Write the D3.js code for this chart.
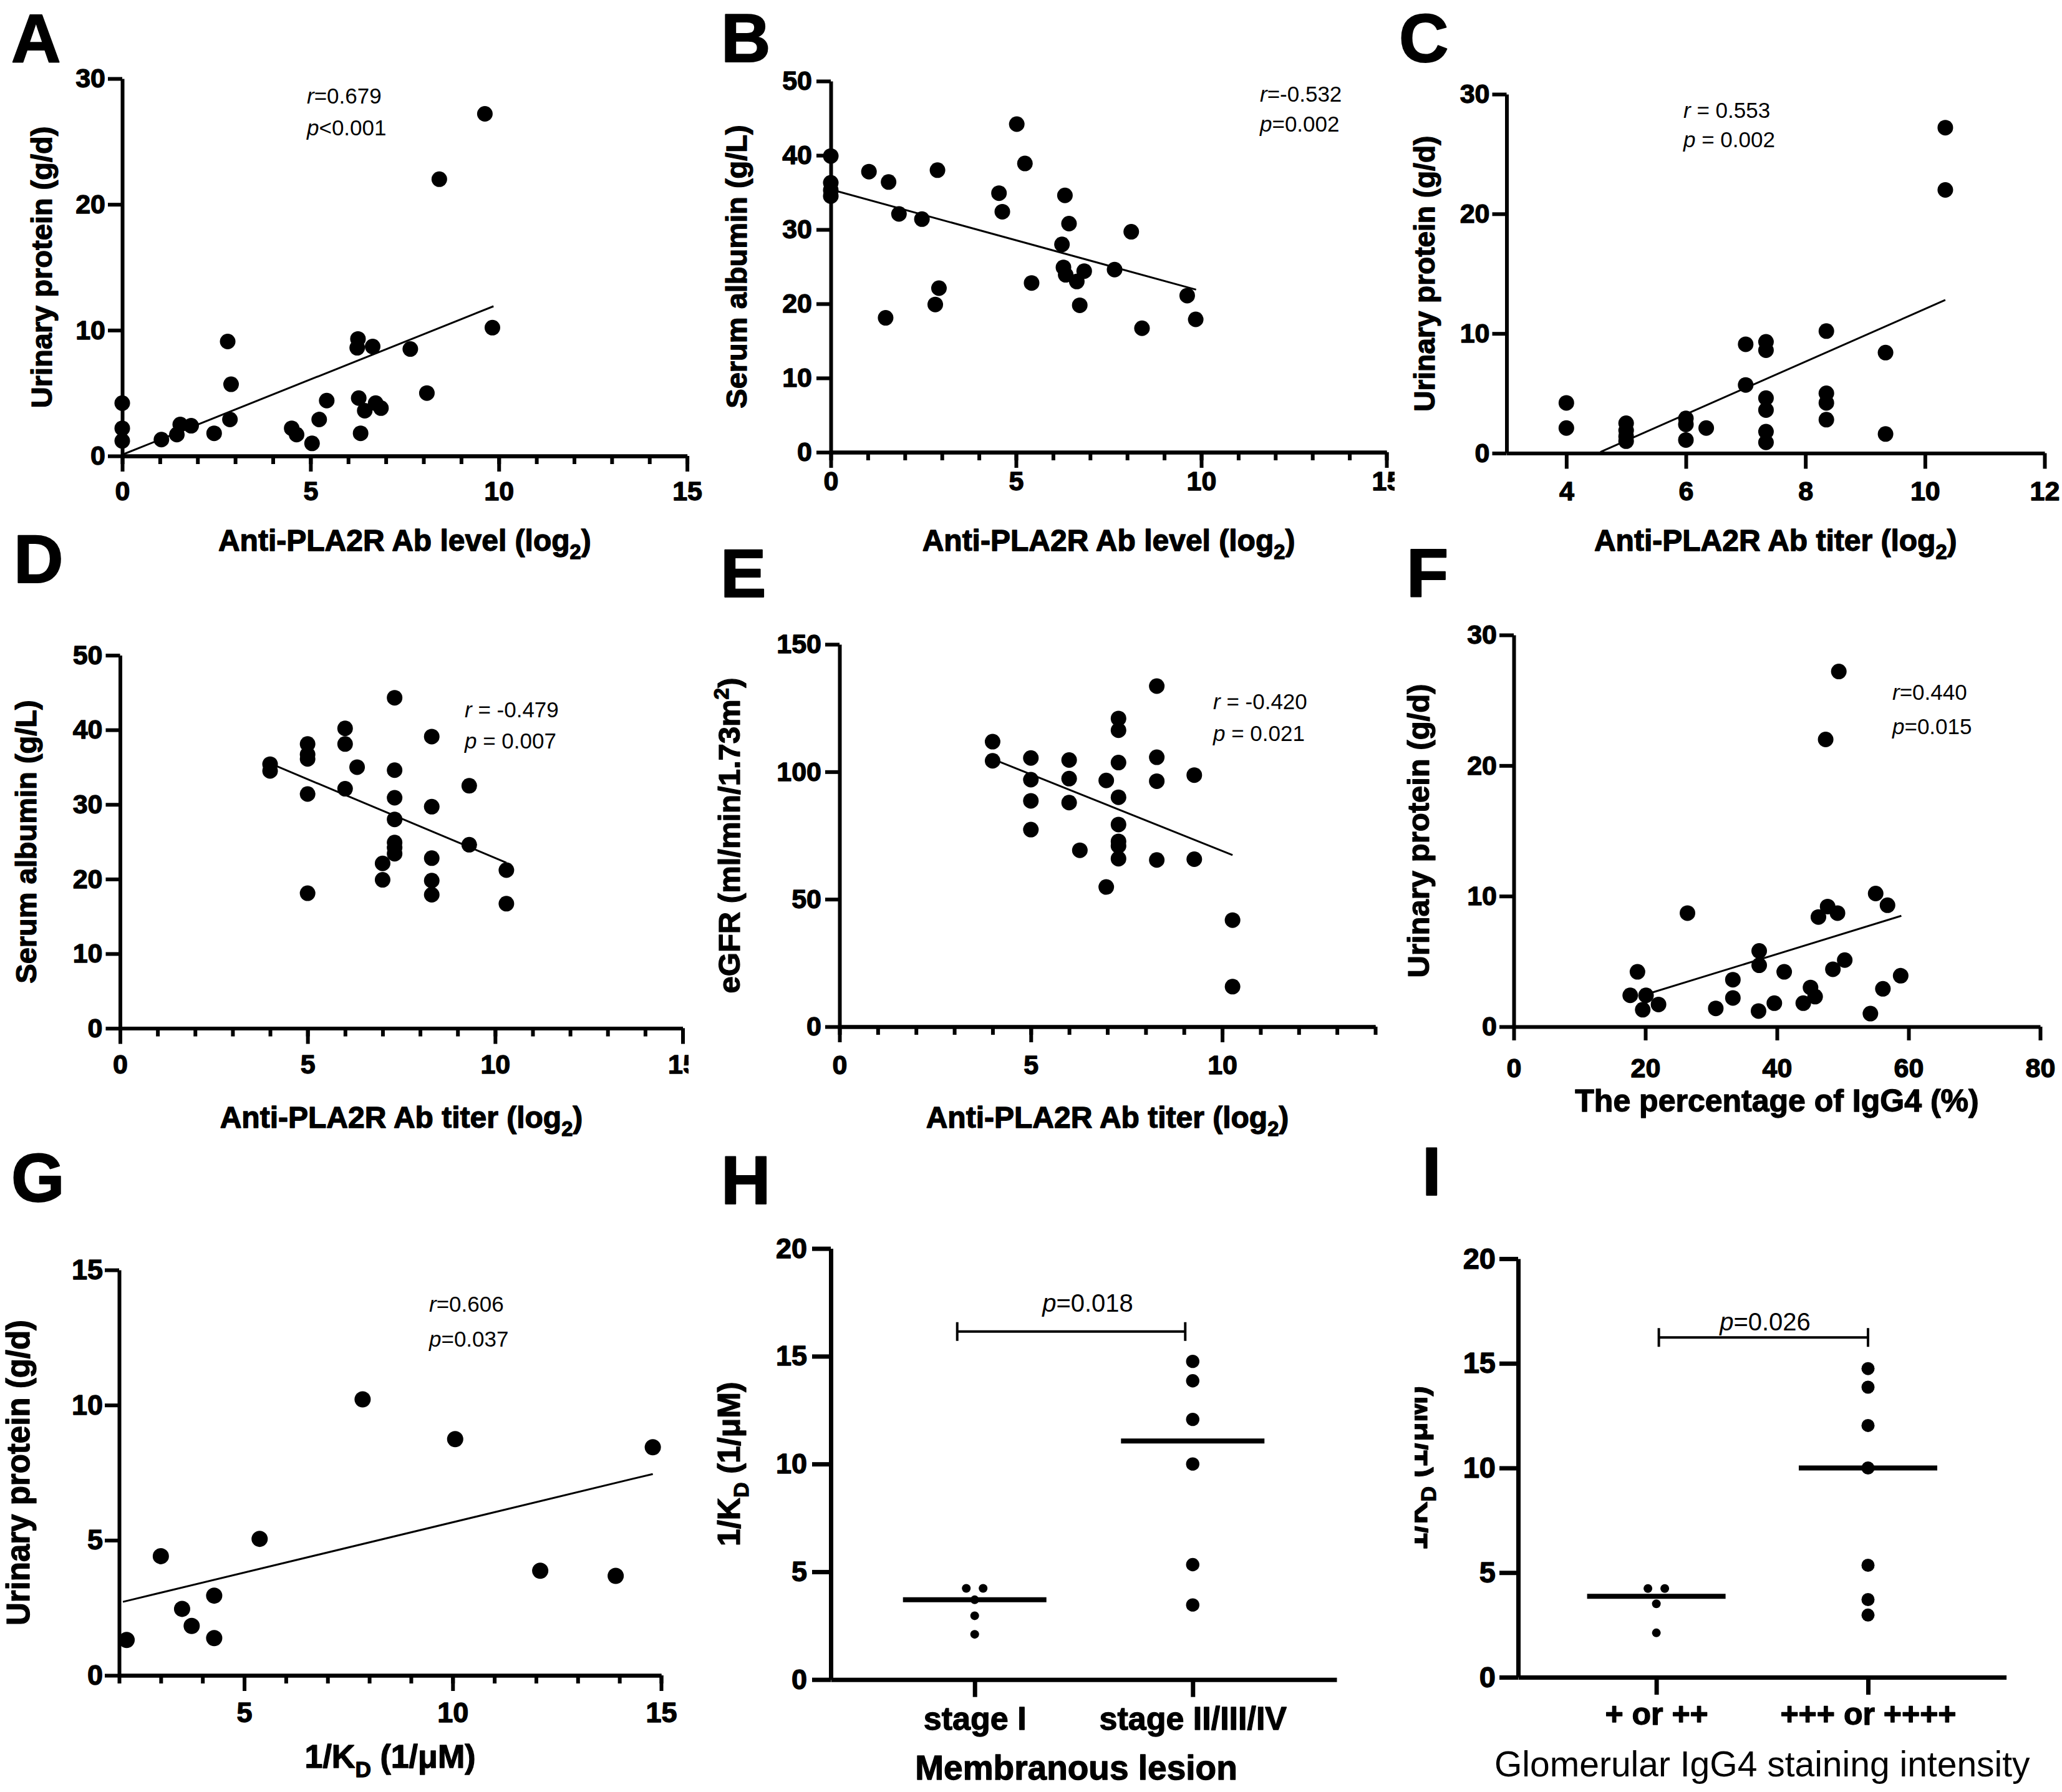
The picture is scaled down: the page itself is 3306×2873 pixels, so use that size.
<!DOCTYPE html>
<html>
<head>
<meta charset="utf-8">
<script src="https://cdn.jsdelivr.net/npm/d3@7/dist/d3.min.js"></script>
<style>
html,body{margin:0;padding:0;background:#fff;}
svg{display:block;}
</style>
</head>
<body>
<svg id="chart" width="3306" height="2873" xmlns="http://www.w3.org/2000/svg"></svg>
<script>
// ================= DATA =================
// Panel A: Urinary protein vs Anti-PLA2R Ab level (log2)
const aX = [0,0,0,1.04,1.45,1.54,1.83,2.44,2.80,2.89,2.86,4.50,4.63,5.04,5.23,5.43,6.26,6.24,6.65,6.28,6.44,6.33,6.73,6.87,7.65,8.09,8.42,9.63,9.83];
const aY = [4.2,2.2,1.2,1.3,1.7,2.5,2.4,1.8,9.1,5.7,2.9,2.2,1.7,1.0,2.9,4.4,9.3,8.6,8.7,4.6,3.6,1.8,4.2,3.8,8.5,5.0,22.0,27.2,10.2];
const aFit = [[0,0.1],[9.86,11.9]];
const aXTicks = [0,5,10,15];
const aYTicks = [0,10,20,30];

// Panel B: Serum albumin vs Anti-PLA2R Ab level (log2)
const bX = [0,0,0,0,1.03,1.56,1.48,1.84,2.46,2.88,2.92,2.82,4.54,4.63,5.02,5.24,5.42,6.32,6.43,6.24,6.28,6.34,6.64,6.84,6.72,7.66,8.11,8.40,9.62,9.85];
const bY = [39.9,36.3,35.3,34.5,37.8,36.4,18.1,32.1,31.4,38.0,22.1,19.9,34.9,32.4,44.2,38.9,22.8,34.6,30.8,28.0,24.9,23.9,23.0,24.4,19.8,24.6,29.7,16.7,21.1,17.9];
const bFit = [[0,35.4],[9.86,21.9]];
const bXTicks = [0,5,10,15];
const bYTicks = [0,10,20,30,40,50];

// Panel C: Urinary protein vs Anti-PLA2R Ab titer (log2)
const cX = [4,4,5,5,5,5,6,6,6,6.34,7,7,7.34,7.34,7.34,7.34,7.34,7.34,8.35,8.35,8.35,8.35,9.34,9.34,10.34,10.34];
const cY = [4.2,2.1,2.5,1.9,1.4,1.0,2.9,2.4,1.1,2.1,9.1,5.7,9.3,8.6,4.6,3.6,1.8,0.9,10.2,5.0,4.2,2.8,8.4,1.6,27.2,22.0];
const cFit = [[4.57,0.1],[10.34,12.8]];
const cXTicks = [4,6,8,10,12];
const cYTicks = [0,10,20,30];

// Panel D: Serum albumin vs Anti-PLA2R Ab titer (log2)
const dX = [4,4,5,5,5,5,5,6,6,6,6.32,7.32,7.32,7.32,7.32,7.32,7.32,7.32,7,7,8.31,8.31,8.31,8.31,8.31,9.31,9.31,10.3,10.3];
const dY = [35.4,34.5,38.1,36.7,36.1,31.4,18.1,40.2,38.1,32.1,35.0,44.3,34.6,30.9,28.0,24.9,24.2,23.4,22.1,19.9,39.1,29.7,22.8,19.8,17.9,32.5,24.6,21.2,16.7];
const dFit = [[4,35.5],[10.3,22.2]];
const dXTicks = [0,5,10,15];
const dYTicks = [0,10,20,30,40,50];

// Panel E: eGFR vs Anti-PLA2R Ab titer (log2)
const eX = [4,4,5,5,5,5,6,6,6,6.28,6.97,6.97,7.29,7.29,7.29,7.29,7.29,7.29,7.29,7.29,8.29,8.29,8.29,8.29,9.27,9.27,10.27,10.27];
const eY = [111.8,104.3,105.4,96.9,88.6,77.3,104.6,97.3,87.9,69.2,96.6,54.8,120.9,116.3,103.6,90.0,79.3,72.7,70.9,65.9,133.6,105.7,96.3,65.4,98.7,65.7,41.8,15.7];
const eFit = [[4,105.0],[10.27,67.3]];
const eXTicks = [0,5,10];
const eYTicks = [0,50,100,150];

// Panel F: Urinary protein vs percentage of IgG4
const fX = [18.8,17.7,20.1,19.6,22.0,26.4,30.7,33.3,33.3,37.3,37.3,37.2,39.6,41.1,44.0,45.1,45.8,46.3,47.7,49.2,47.4,49.4,48.5,50.3,54.2,55.0,56.8,56.1,58.8];
const fY = [4.2,2.4,2.4,1.3,1.7,8.7,1.4,3.6,2.2,5.8,4.7,1.2,1.8,4.2,1.8,3.0,2.3,8.4,9.2,8.7,22.0,27.2,4.4,5.1,1.0,10.2,9.3,2.9,3.9];
const fFit = [[20.1,2.47],[58.9,8.49]];
const fXTicks = [0,20,40,60,80];
const fYTicks = [0,10,20,30];

// Panel G: Urinary protein vs 1/KD
const gX = [2.18,3.0,3.51,3.74,4.28,4.28,5.37,7.84,10.06,12.1,13.91,14.8];
const gY = [1.31,4.41,2.46,1.83,2.95,1.38,5.05,10.21,8.74,3.87,3.68,8.44];
const gFit = [[2.09,2.72],[14.8,7.45]];
const gXTicks = [5,10,15];
const gYTicks = [0,5,10,15];

// Panel H: 1/KD by membranous lesion stage
const hCats = ["stage I","stage II/III/IV"];
const hStageI = [4.23,4.23,3.70,2.96,2.10];
const hStageII = [14.76,13.86,12.07,10.0,5.33,3.46];
const hMedians = [3.70,11.07];
const hYTicks = [0,5,10,15,20];

// Panel I: 1/KD by glomerular IgG4 staining intensity
const iCats = ["+ or ++","+++ or ++++"];
const iLow = [4.24,4.24,3.51,2.12];
const iHigh = [14.75,13.86,12.03,10.0,5.35,3.71,2.97];
const iMedians = [3.87,10.0];
const iYTicks = [0,5,10,15,20];

// ================= DRAWING =================
const svg = d3.select("#chart");
svg.append("rect").attr("width",3306).attr("height",2873).attr("fill","#fff");
const FONT = "'Liberation Sans', Arial, Helvetica, sans-serif";
const HEAVY = 1.3; // extra stroke to mimic the heavy bold face

function rich(t, parts, fs) {
  let shift = 0;
  parts.forEach(pt => {
    const txt = pt[0], s = pt[1];
    const ts = t.append("tspan").text(txt);
    let target = 0;
    if (s === "sub") { target = fs*0.28; ts.attr("font-size", fs*0.68); }
    else if (s === "sup") { target = -fs*0.36; ts.attr("font-size", fs*0.68); }
    else if (s === "it") ts.attr("font-style","italic");
    const dy = target - shift;
    if (dy !== 0) ts.attr("dy", dy);
    shift = target;
  });
}
function label(g, x, y, parts, fs, o) {
  o = o || {};
  const w = o.weight || "bold";
  const t = g.append("text").attr("x", x).attr("y", y)
    .attr("font-family", o.family || FONT).attr("font-size", fs)
    .attr("font-weight", w).attr("text-anchor", o.anchor || "start")
    .attr("fill", "#000");
  if (w === "bold") t.attr("stroke","#000").attr("stroke-width", o.heavy != null ? o.heavy : HEAVY).attr("stroke-linejoin","round");
  if (o.rotate) t.attr("transform", `rotate(-90,${x},${y})`);
  rich(t, parts, fs);
  return t;
}
function styleAxis(sel, sw, fs, family, weight) {
  sel.attr("font-family", family || FONT).attr("font-size", fs).attr("font-weight", weight || "bold");
  sel.selectAll("path.domain").attr("stroke","#000").attr("stroke-width", sw);
  sel.selectAll(".tick line").attr("stroke","#000").attr("stroke-width", sw);
  sel.selectAll(".tick text").attr("fill","#000").attr("stroke","#000").attr("stroke-width", HEAVY).attr("stroke-linejoin","round");
}
let clipN = 0;
function clipGroup(g, x, w) {
  const id = "clip" + (clipN++);
  svg.append("clipPath").attr("id", id).append("rect").attr("x", x).attr("y", 0).attr("width", w).attr("height", 2873);
  g.attr("clip-path", `url(#${id})`);
}

function scatter(p) {
  const g = svg.append("g");
  if (p.clipMaxX) clipGroup(g, 0, p.clipMaxX);
  const x = d3.scaleLinear().domain(p.xDomain).range([p.x0, p.x1]);
  const y = d3.scaleLinear().domain(p.yDomain).range([p.yBot, p.yTop]);
  const fmt = d3.format("d");
  if (p.xMinor) {
    const m = g.append("g").attr("transform", `translate(0,${p.yBot})`)
      .call(d3.axisBottom(x).tickValues(p.xMinor).tickSize(13).tickSizeOuter(0).tickFormat(""));
    styleAxis(m, 6, p.tickFs);
  }
  const ax = g.append("g").attr("transform", `translate(0,${p.yBot})`)
    .call(d3.axisBottom(x).tickValues(p.xTicks).tickSize(p.xTickLen || 25).tickSizeOuter(0).tickPadding(p.xPad).tickFormat(fmt));
  styleAxis(ax, 6, p.tickFs);
  const ay = g.append("g").attr("transform", `translate(${p.x0},0)`)
    .call(d3.axisLeft(y).tickValues(p.yTicks).tickSize(23).tickSizeOuter(0).tickPadding(p.yPad).tickFormat(fmt));
  styleAxis(ay, 6, p.tickFs);
  g.append("path").datum(p.fit)
    .attr("d", d3.line().x(d => x(d[0])).y(d => y(d[1])))
    .attr("fill","none").attr("stroke","#000").attr("stroke-width",3);
  g.append("g").selectAll("circle").data(d3.zip(p.xs, p.ys)).join("circle")
    .attr("cx", d => x(d[0])).attr("cy", d => y(d[1])).attr("r", p.r).attr("fill","#000");
  p.annot.forEach((parts, i) => label(g, p.annX, p.annY[i], parts, 35, {weight:"normal"}));
  label(g, (p.x0 + p.x1)/2, p.xTitleY, p.xTitle, p.xTitleFs, {anchor:"middle"});
  label(g, p.yTitleX, (p.yTop + p.yBot)/2, p.yTitle, p.yTitleFs, {anchor:"middle", rotate:true});
}

function dotPlot(p) {
  const g = svg.append("g");
  const x = d3.scalePoint().domain(p.cats).range([p.x0, p.x1]).padding(p.pad);
  const y = d3.scaleLinear().domain([0,20]).range([p.yBot, p.yTop]);
  const ax = g.append("g").attr("transform", `translate(0,${p.yBot})`)
    .call(d3.axisBottom(x).tickSize(28).tickSizeOuter(0).tickPadding(p.xPad));
  styleAxis(ax, 7, p.catFs);
  const ay = g.append("g").attr("transform", `translate(${p.x0},0)`)
    .call(d3.axisLeft(y).tickValues(p.yTicks).tickSize(30).tickSizeOuter(0).tickPadding(p.yPad));
  styleAxis(ay, 7, p.tickFs);
  p.groups.forEach((vals, gi) => {
    const cx = x(p.cats[gi]);
    const counts = d3.rollup(vals, v => v.length, d => d);
    const seen = new Map();
    const pts = vals.map(v => {
      const n = counts.get(v), k = seen.get(v) || 0;
      seen.set(v, k + 1);
      return {v: v, dx: (k - (n - 1)/2) * p.spread};
    });
    g.append("line").attr("x1", cx - p.medHalf).attr("x2", cx + p.medHalf)
      .attr("y1", y(p.medians[gi])).attr("y2", y(p.medians[gi]))
      .attr("stroke","#000").attr("stroke-width",8);
    g.append("g").selectAll("circle").data(pts).join("circle")
      .attr("cx", d => cx + d.dx).attr("cy", d => y(d.v)).attr("r", p.r[gi]).attr("fill","#000");
  });
  const by = y(p.bracketY), bx1 = x(p.cats[0]) + p.brOff[0], bx2 = x(p.cats[1]) + p.brOff[1];
  g.append("path").attr("d", `M${bx1},${by-15}V${by+15}M${bx1},${by}H${bx2}M${bx2},${by-15}V${by+15}`)
    .attr("stroke","#000").attr("stroke-width",4).attr("fill","none");
  label(g, p.pX, p.pY, p.pText, 40, {anchor:"middle", weight:"normal"});
  label(g, (p.x0 + p.x1)/2 + (p.xTitleDx || 0), p.xTitleY, p.xTitle, p.xTitleFs, {anchor:"middle", weight:p.xTitleWeight});
  const yt = g.append("g");
  if (p.yTitleClip) clipGroup(yt, p.yTitleClip, 400);
  label(yt, p.yTitleX, (p.yTop + p.yBot)/2, p.yTitle, 50, {anchor:"middle", rotate:true});
}

const titleLevel = [["Anti-PLA2R Ab level (log"],["2","sub"],[")"]];
const titleTiter = [["Anti-PLA2R Ab titer (log"],["2","sub"],[")"]];
const titleUP = [["Urinary protein (g/d)"]];
const titleSA = [["Serum albumin (g/L)"]];
const titleKD = [["1/K"],["D","sub"],[" (1/\u03BCM)"]];

scatter({xs:aX, ys:aY, fit:aFit, xDomain:[0,15], yDomain:[0,30], x0:196, x1:1101.6, yTop:126, yBot:731,
  xTicks:aXTicks, xMinor:d3.range(0,16), yTicks:aYTicks, tickFs:43, xPad:15, yPad:4, r:12.5,
  annX:492, annY:[166,217], annot:[[["r","it"],["=0.679"]],[["p","it"],["<0.001"]]],
  xTitle:titleLevel, xTitleY:883, xTitleFs:48, yTitle:titleUP, yTitleX:83, yTitleFs:47});

scatter({xs:bX, ys:bY, fit:bFit, xDomain:[0,15], yDomain:[0,50], x0:1332, x1:2223, yTop:130, yBot:725,
  xTicks:bXTicks, xMinor:d3.range(0,16), yTicks:bYTicks, tickFs:43, xPad:5, yPad:7, r:12.5, clipMaxX:2236,
  annX:2020, annY:[163,211], annot:[[["r","it"],["=-0.532"]],[["p","it"],["=0.002"]]],
  xTitle:titleLevel, xTitleY:883, xTitleFs:48, yTitle:titleSA, yTitleX:1197, yTitleFs:47});

scatter({xs:cX, ys:cY, fit:cFit, xDomain:[3,12], yDomain:[0,30], x0:2415.5, x1:3278, yTop:151, yBot:726.5,
  xTicks:cXTicks, yTicks:cYTicks, tickFs:43, xPad:20, yPad:4, r:12.5,
  annX:2699, annY:[189,236], annot:[[["r","it"],[" = 0.553"]],[["p","it"],[" = 0.002"]]],
  xTitle:titleTiter, xTitleY:883, xTitleFs:48, yTitle:titleUP, yTitleX:2300, yTitleFs:46});

scatter({xs:dX, ys:dY, fit:dFit, xDomain:[0,15], yDomain:[0,50], x0:192.5, x1:1094.5, yTop:1050.5, yBot:1648.6,
  xTicks:dXTicks, xMinor:d3.range(0,16), yTicks:dYTicks, tickFs:43, xPad:17, yPad:5, r:12.5, clipMaxX:1104,
  annX:745, annY:[1150,1200], annot:[[["r","it"],[" = -0.479"]],[["p","it"],[" = 0.007"]]],
  xTitle:titleTiter, xTitleY:1808, xTitleFs:48, yTitle:titleSA, yTitleX:58, yTitleFs:47});

scatter({xs:eX, ys:eY, fit:eFit, xDomain:[0,14], yDomain:[0,150], x0:1346, x1:2205, yTop:1033, yBot:1646,
  xTicks:eXTicks, xMinor:d3.range(0,15), yTicks:eYTicks, tickFs:43, xPad:20, yPad:6, r:12.5,
  annX:1945, annY:[1137,1188], annot:[[["r","it"],[" = -0.420"]],[["p","it"],[" = 0.021"]]],
  xTitle:titleTiter, xTitleY:1808, xTitleFs:48,
  yTitle:[["eGFR (ml/min/1.73m"],["2","sup"],[")"]], yTitleX:1186, yTitleFs:49});

scatter({xs:fX, ys:fY, fit:fFit, xDomain:[0,80], yDomain:[0,30], x0:2427, x1:3271, yTop:1018, yBot:1646,
  xTicks:fXTicks, xTickLen:22, yTicks:fYTicks, tickFs:43, xPad:28, yPad:4, r:12.5,
  annX:3034, annY:[1122,1177], annot:[[["r","it"],["=0.440"]],[["p","it"],["=0.015"]]],
  xTitle:[["The percentage of IgG4 (%)"]], xTitleY:1782, xTitleFs:50, yTitle:titleUP, yTitleX:2291, yTitleFs:49});

scatter({xs:gX, ys:gY, fit:gFit, xDomain:[2,15], yDomain:[0,15], x0:191, x1:1060, yTop:2036, yBot:2686,
  xTicks:gXTicks, xMinor:d3.range(2,16), yTicks:gYTicks, tickFs:45, xPad:18, yPad:3, r:13,
  annX:688, annY:[2103,2159], annot:[[["r","it"],["=0.606"]],[["p","it"],["=0.037"]]],
  xTitle:titleKD, xTitleY:2834, xTitleFs:52, yTitle:titleUP, yTitleX:47, yTitleFs:51});

dotPlot({cats:hCats, groups:[hStageI, hStageII], medians:hMedians, x0:1332, x1:2143, yTop:2001.6, yBot:2692.7,
  pad:0.66, yTicks:hYTicks, tickFs:45, catFs:52, xPad:15, yPad:8, r:[7,10.7], spread:27, medHalf:115,
  bracketY:16.15, brOff:[-28,-12], pX:1744, pY:2103, pText:[["p","it"],["=0.018"]],
  xTitle:[["Membranous lesion"]], xTitleY:2853, xTitleFs:55, xTitleDx:-12,
  yTitle:titleKD, yTitleX:1186});

dotPlot({cats:iCats, groups:[iLow, iHigh], medians:iMedians, x0:2434, x1:3216.6, yTop:2018, yBot:2689,
  pad:0.653, yTicks:iYTicks, tickFs:47, catFs:50, xPad:12, yPad:6, r:[7,10.5], spread:27, medHalf:111,
  bracketY:16.24, brOff:[4,0], pX:2830, pY:2133, pText:[["p","it"],["=0.026"]],
  xTitle:[["Glomerular IgG4 staining intensity"]], xTitleY:2848, xTitleFs:57, xTitleWeight:"normal",
  yTitle:titleKD, yTitleX:2288, yTitleClip:2268});

// Panel letters
const letters = [["A",18,99],["B",1156,99],["C",2243,99],["D",22,934],["E",1155,957],["F",2255,957],["G",18,1926],["H",1156,1930],["I",2280,1916]];
const lg = svg.append("g");
letters.forEach(l => label(lg, l[1], l[2], [[l[0]]], 110, {heavy:2}));
</script>
</body>
</html>
